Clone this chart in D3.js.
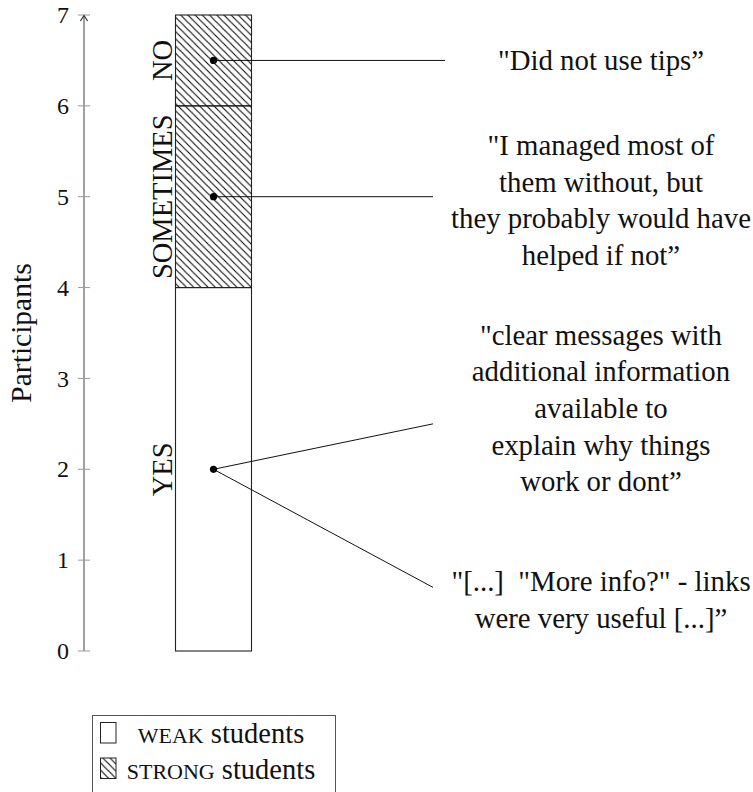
<!DOCTYPE html>
<html><head><meta charset="utf-8">
<script src="https://cdn.jsdelivr.net/npm/d3@7"></script>
<style>
html,body{margin:0;padding:0;background:#fff;}
text{font-family:"Liberation Serif",serif;fill:#111;}
</style></head>
<body>
<svg id="chart" width="753" height="792"></svg>
<script>
// ---- data ----
const categories = ["YES", "SOMETIMES", "NO"];
const weakValues = [4, 0, 0];
const strongValues = [0, 2, 1];
const yTicks = [0, 1, 2, 3, 4, 5, 6, 7];
const yLabel = "Participants";

// annotation quotes: segment they point from, end of leader line (in participants), text block centre (in participants)
const quoteSegments = ["NO", "SOMETIMES", "YES", "YES"];
const quoteLineEnds = [6.5, 5, 2.5, 0.7];
const quoteTextCenters = [6.5, 4.96, 2.67, 0.56];
const quoteLines = [
  ["\"Did not use tips\u201D"],
  ["\"I managed most of", "them without, but", "they probably would have", "helped if not\u201D"],
  ["\"clear messages with", "additional information", "available to", "explain why things", "work or dont\u201D"],
  ["\"[...]  \"More info?\" - links", "were very useful [...]\u201D"]
];
const legendItems = [["WEAK", " students"], ["STRONG", " students"]];

// ---- layout ----
const svg = d3.select("#chart");
const y = d3.scaleLinear().domain([0, 7]).range([651, 15]);
const x = d3.scaleBand().domain(["tips"]).range([175.5, 251.5]);
const axisX = 84;
const serif = "'Liberation Serif', serif";

const defs = svg.append("defs");
const pat = defs.append("pattern").attr("id", "hatch")
  .attr("patternUnits", "userSpaceOnUse").attr("width", 7.2).attr("height", 7.2);
pat.append("path")
  .attr("d", "M-2,-2 L9.2,9.2 M-2,5.2 L2,9.2 M5.2,-2 L9.2,2")
  .attr("stroke", "#000").attr("stroke-width", 1.05).attr("fill", "none");

// stacked segments
const segs = [];
let acc = 0;
categories.forEach((c, i) => {
  const w = weakValues[i], s = strongValues[i];
  if (w > 0) { segs.push({cat: c, y0: acc, y1: acc + w, type: "weak"}); acc += w; }
  if (s > 0) { segs.push({cat: c, y0: acc, y1: acc + s, type: "strong"}); acc += s; }
});

// axis
const g = svg.append("g");
g.append("line").attr("x1", axisX).attr("x2", axisX)
  .attr("y1", y(0)).attr("y2", y(7) + 1)
  .attr("stroke", "#444").attr("stroke-width", 1);
g.selectAll(".tick").data(yTicks).enter().append("line")
  .attr("x1", axisX - 6).attr("x2", axisX + 6)
  .attr("y1", d => y(d)).attr("y2", d => y(d))
  .attr("stroke", "#999").attr("stroke-width", 1);
g.append("path")
  .attr("d", `M${axisX - 3.6},${y(7) + 6} Q${axisX - 1},${y(7) + 2} ${axisX},${y(7) + 0.5} Q${axisX + 1},${y(7) + 2} ${axisX + 3.6},${y(7) + 6}`)
  .attr("fill", "none").attr("stroke", "#222").attr("stroke-width", 1.1);
g.selectAll(".tl").data(yTicks).enter().append("text")
  .attr("x", axisX - 15).attr("y", d => y(d)).attr("dy", "0.34em")
  .attr("font-family", serif)
  .attr("text-anchor", "end").attr("font-size", 24).text(d => d);
g.append("text")
  .attr("transform", `translate(31,${(y(0) + y(7)) / 2}) rotate(-90)`)
  .attr("font-family", serif)
  .attr("text-anchor", "middle").attr("font-size", 29.5).text(yLabel);

// bars
svg.selectAll(".seg").data(segs).enter().append("rect")
  .attr("x", x("tips")).attr("width", x.bandwidth())
  .attr("y", d => y(d.y1)).attr("height", d => y(d.y0) - y(d.y1))
  .attr("fill", d => d.type === "strong" ? "url(#hatch)" : "#fff")
  .attr("stroke", "#222").attr("stroke-width", 1.1);

// category labels
const catMid = c => {
  const ss = segs.filter(s => s.cat === c);
  return (d3.min(ss, s => s.y0) + d3.max(ss, s => s.y1)) / 2;
};
svg.selectAll(".cl").data(categories).enter().append("text")
  .attr("transform", d => `translate(${x("tips") - 3.5},${y(catMid(d))}) rotate(-90)`)
  .attr("font-family", serif)
  .attr("text-anchor", "middle").attr("font-size", 28.5).text(d => d);

// annotations
const dotX = x("tips") + x.bandwidth() / 2;
const lineEndX = [445, 433, 433, 433];
quoteSegments.forEach((c, i) => {
  svg.append("line")
    .attr("x1", dotX).attr("y1", y(catMid(c)))
    .attr("x2", lineEndX[i]).attr("y2", y(quoteLineEnds[i]))
    .attr("stroke", "#111").attr("stroke-width", 1);
});
svg.selectAll(".dot").data(Array.from(new Set(quoteSegments))).enter().append("circle")
  .attr("cx", dotX).attr("cy", d => y(catMid(d))).attr("r", 3.6).attr("fill", "#000");

const lh = 36.7;
quoteLines.forEach((lines, i) => {
  const cy = y(quoteTextCenters[i]);
  const t = svg.append("text").attr("text-anchor", "middle")
    .attr("font-family", serif).attr("font-size", 28.8);
  lines.forEach((ln, j) => {
    t.append("tspan").attr("x", 601)
      .attr("y", cy + (j - (lines.length - 1) / 2) * lh)
      .attr("dy", "0.33em").attr("xml:space", "preserve").text(ln);
  });
});

// legend
const lg = svg.append("g");
lg.append("rect").attr("x", 92.5).attr("y", 715.5).attr("width", 243).attr("height", 90)
  .attr("fill", "#fff").attr("stroke", "#555").attr("stroke-width", 1);
legendItems.forEach((it, i) => {
  const yy = 722.5 + i * 35.5;
  lg.append("rect").attr("x", 100.5).attr("y", yy).attr("width", 15.5).attr("height", 20.5)
    .attr("fill", i === 0 ? "#fff" : "url(#hatch)").attr("stroke", "#222").attr("stroke-width", 1);
  const t = lg.append("text").attr("x", 221).attr("y", yy + 20.5)
    .attr("font-family", serif)
    .attr("text-anchor", "middle").attr("font-size", 28.5);
  t.append("tspan").attr("font-size", 22).text(it[0]);
  t.append("tspan").text(it[1]);
});
</script>
</body></html>
